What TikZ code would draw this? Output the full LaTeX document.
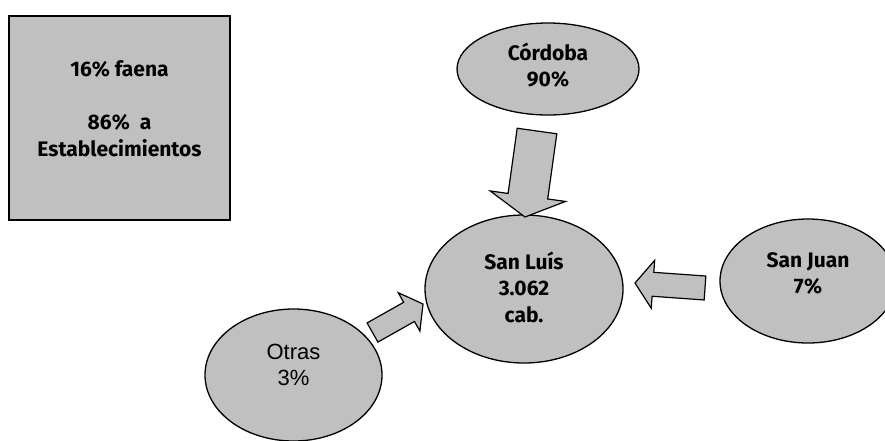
\documentclass[tikz,border=0pt]{standalone}
\usepackage{fontspec}
\setmainfont{Fira Sans}
\newfontfamily\arialfont{Liberation Sans}
\usetikzlibrary{shapes.geometric,calc}
\definecolor{OvalGray}{RGB}{192,192,192}

\tikzset{
  region/.style={ellipse,draw=black,line width=1.3pt,fill=OvalGray,inner sep=0pt},
  regiontext/.style={align=center,font=\fontsize{21}{26.5}\selectfont\bfseries},
  flow/.style={draw=black,line width=1.2pt,fill=OvalGray,line join=miter},
}

% block arrow: tail, tip, shaft half width, head half width, head length
\newcommand{\flowarrow}[5]{%
  \coordinate (fa-h) at ($(#2)!#5!(#1)$);
  \draw[flow] ($(#1)!#3!90:(#2)$) -- ($(fa-h)!#3!-90:(#1)$) -- ($(fa-h)!#4!-90:(#1)$)
    -- (#2) -- ($(fa-h)!#4!90:(#1)$) -- ($(fa-h)!#3!90:(#1)$) -- ($(#1)!#3!-90:(#2)$) -- cycle;
}

\begin{document}
\begin{tikzpicture}[x=1pt,y=-1pt]
  \useasboundingbox (0,0) rectangle (885,440);
  \clip (0,0) rectangle (885,440);

  % summary
  \node[draw=black,line width=2pt,fill=OvalGray,minimum width=221pt,minimum height=204pt,inner sep=0pt,
    label={[regiontext,yshift=9.5pt]center:16\% faena\\[26.5pt]86\%~~a\\Establecimientos}] (destino) at (119.5,118) {};

  % regions
  \node[region,minimum width=182pt,minimum height=92pt,
    label={[regiontext,yshift=4pt]center:Córdoba\\90\%}] (cordoba) at (548,69) {};
  \node[region,minimum width=198pt,minimum height=148pt,
    label={[regiontext,yshift=2pt]center:San Luís\\3.062\\cab.}] (sanluis) at (524,289) {};
  \node[region,minimum width=176pt,minimum height=124pt,
    label={[regiontext,yshift=7.5pt]center:San Juan\\7\%}] (sanjuan) at (808,281) {};
  \node[region,minimum width=177pt,minimum height=132pt,
    label={[align=center,font=\fontsize{22}{26}\selectfont\arialfont,yshift=10pt]center:Otras\\3\%}] (otras) at (293.5,375) {};

  % flows into San Luis
  \coordinate (cordobaTail) at (537,131);
  \coordinate (cordobaTip) at (525,217);
  \coordinate (sanjuanTail) at (705,288);
  \coordinate (sanjuanTip) at (635,283);
  \coordinate (otrasTail) at (372.5,332.5);
  \coordinate (otrasTip) at (423,304);
  \flowarrow{cordobaTail}{cordobaTip}{20pt}{38pt}{21pt}
  \flowarrow{sanjuanTail}{sanjuanTip}{12pt}{24pt}{18pt}
  \flowarrow{otrasTail}{otrasTip}{11pt}{22pt}{16pt}
\end{tikzpicture}
\end{document}
